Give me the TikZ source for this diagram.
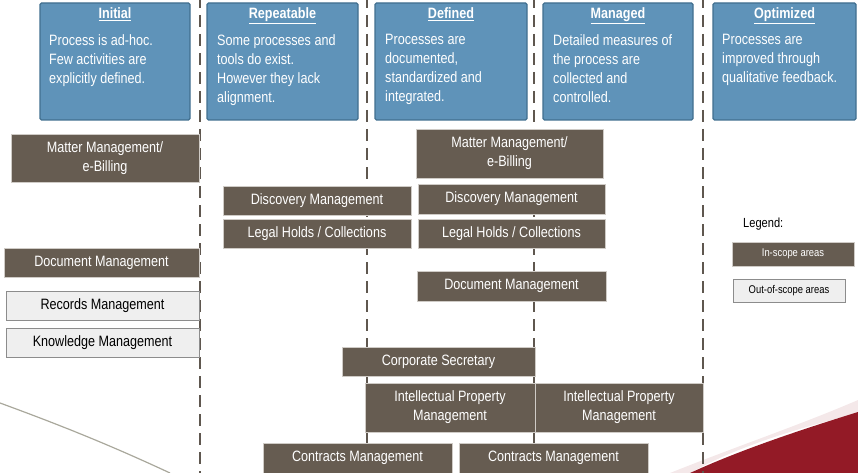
\documentclass[tikz,border=0pt]{standalone}
\usepackage{fontspec}
\setmainfont[FakeStretch=0.84]{Liberation Sans}
\begin{document}
\definecolor{hdrfill}{HTML}{5F93B9}
\definecolor{hdrline}{HTML}{416F8F}
\definecolor{brown}{HTML}{665C51}
\definecolor{boxedge}{HTML}{CFCBC6}
\definecolor{greyfill}{HTML}{EFEFEF}
\definecolor{greyedge}{HTML}{8C8C8C}
\definecolor{divider}{HTML}{5F574F}
\definecolor{swoosh}{HTML}{931A26}
\definecolor{curve}{HTML}{A9A89C}
\begin{tikzpicture}[x=1pt,y=-1pt,
  txt/.style={font=\fontsize{15}{19}\selectfont},
  header/.style={draw=hdrline, line width=1.3pt, fill=hdrfill, rounded corners=1.5pt},
  htitle/.style={txt, text=white, anchor=base, inner sep=0pt},
  hbody/.style={txt, text=white, anchor=north west, align=left, inner sep=0pt},
  area/.style={txt, draw=boxedge, line width=0.8pt, fill=brown, text=white,
    align=center, inner sep=0pt},
  outarea/.style={txt, draw=greyedge, line width=0.8pt, fill=greyfill, text=black,
    align=center, inner sep=0pt},
  divline/.style={draw=divider, line width=2.8pt, dash pattern=on 12pt off 7pt}]
\useasboundingbox (0,0) rectangle (858,473);

% background swooshes
\fill[swoosh!10!white] (670,473) .. controls (740,445) and (800,425) .. (858,400) -- (858,413)
  .. controls (800,428) and (740,445) .. (690,473) -- cycle;
\fill[swoosh] (690,473) .. controls (740,450) and (800,430) .. (858,412) -- (858,473) -- cycle;
\draw[color=curve, line width=1.2pt] (0,403) .. controls (60,425) and (110,445) .. (170,473);

% column dividers
\coordinate (d1t) at (200,-4); \coordinate (d1b) at (200,480);
\coordinate (d2t) at (367,-4); \coordinate (d2b) at (367,480);
\coordinate (d3t) at (534,-4); \coordinate (d3b) at (534,480);
\coordinate (d4t) at (703,-4); \coordinate (d4b) at (703,480);
\draw[divline] (d1t) -- (d1b);
\draw[divline] (d2t) -- (d2b);
\draw[divline] (d3t) -- (d3b);
\draw[divline] (d4t) -- (d4b);

% maturity level headers
\draw[header] (40,3) rectangle (190,120);
\draw[header] (207,3) rectangle (358,120);
\draw[header] (375,3) rectangle (527,120);
\draw[header] (543,3) rectangle (693,120);
\draw[header] (713,3) rectangle (856,120);

\node[htitle] (t1) at (115,19) {\underline{\textbf{Initial}}};
\node[htitle] (t2) at (282.5,19) {\underline{\textbf{Repeatable}}};
\node[htitle] (t3) at (451,19) {\underline{\textbf{Defined}}};
\node[htitle] (t4) at (618,19) {\underline{\textbf{Managed}}};
\node[htitle] (t5) at (784.5,19) {\underline{\textbf{Optimized}}};

\node[hbody] (b1) at (49,34.3) {Process is ad-hoc.\\Few activities are\\explicitly defined.};
\node[hbody] (b2) at (217,34.3) {Some processes and\\tools do exist.\\However they lack\\alignment.};
\node[hbody] (b3) at (385,34.3) {Processes are\\documented,\\standardized and\\integrated.};
\node[hbody] (b4) at (553,34.3) {Detailed measures of\\the process are\\collected and\\controlled.};
\node[hbody] (b5) at (722,34.3) {Processes are\\improved through\\qualitative feedback.};

% areas per maturity level
\node[area, minimum width=188, minimum height=48] (mmI) at (105,158) {Matter Management/\\e-Billing};
\node[area, minimum width=195, minimum height=29] (docI) at (101.5,262.5) {Document Management};
\node[outarea, minimum width=193, minimum height=29] (recI) at (102.5,305.5) {Records Management};
\node[outarea, minimum width=193, minimum height=29] (knoI) at (102.5,342.5) {Knowledge Management};

\node[area, minimum width=188, minimum height=29] (disR) at (317,200.5) {Discovery Management};
\node[area, minimum width=188, minimum height=29] (legR) at (317,233.5) {Legal Holds / Collections};

\node[area, minimum width=187, minimum height=49] (mmD) at (509.5,153.5) {Matter Management/\\e-Billing};
\node[area, minimum width=187, minimum height=30] (disD) at (511.5,199) {Discovery Management};
\node[area, minimum width=187, minimum height=29] (legD) at (511.5,233.5) {Legal Holds / Collections};
\node[area, minimum width=189, minimum height=30] (docD) at (511.5,286) {Document Management};

\node[area, minimum width=193, minimum height=29] (corp) at (438.5,361.5) {Corporate Secretary};
\node[area, minimum width=170, minimum height=49] (ipL) at (450,407.5) {Intellectual Property\\Management};
\node[area, minimum width=168, minimum height=49] (ipR) at (619,407.5) {Intellectual Property\\Management};
\node[area, minimum width=189, minimum height=30] (conL) at (357.5,458) {Contracts Management};
\node[area, minimum width=189, minimum height=30] (conR) at (553.5,458) {Contracts Management};

% legend
\node[anchor=base west, inner sep=0pt, font=\fontsize{13.2}{16}\selectfont] (leg) at (743,227) {Legend:};
\node[area, minimum width=122, minimum height=24, font=\fontsize{11.2}{13}\selectfont] (inL) at (793,254) {In-scope areas};
\node[outarea, minimum width=112, minimum height=23, font=\fontsize{11.2}{13}\selectfont] (outL) at (789,290.5) {Out-of-scope areas};
\end{tikzpicture}
\end{document}
